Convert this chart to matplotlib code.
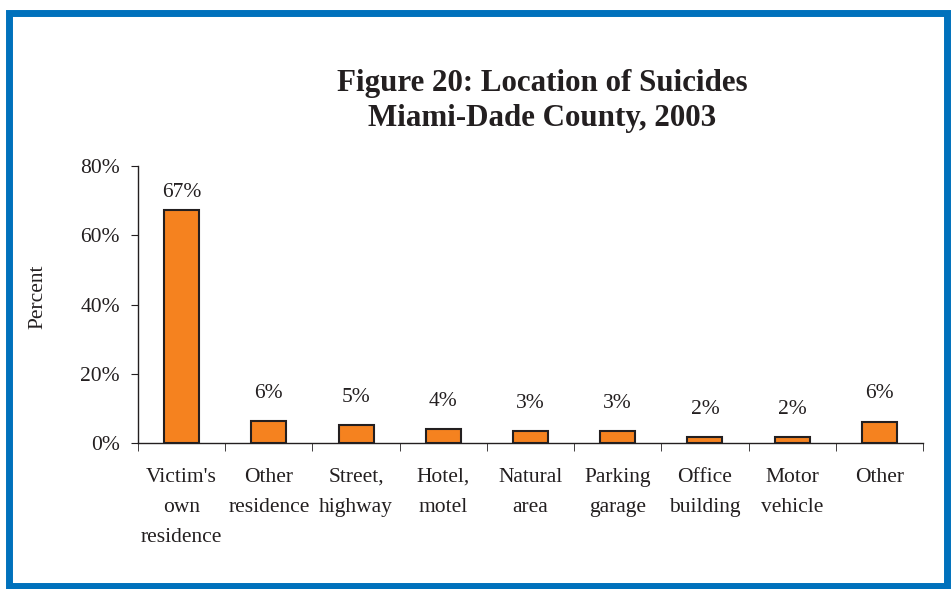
import numpy as np
import matplotlib.pyplot as plt
from matplotlib.patches import Rectangle

# Location of suicides, Miami-Dade County 2003 (percent of cases)
categories = ["Victim's\nown\nresidence", "Other\nresidence", "Street,\nhighway",
              "Hotel,\nmotel", "Natural\narea", "Parking\ngarage",
              "Office\nbuilding", "Motor\nvehicle", "Other"]
percents = [67.4, 6.3, 5.1, 4.1, 3.4, 3.4, 1.6, 1.6, 6.2]
yticks = [0, 20, 40, 60, 80]

plt.rcParams['font.family'] = ['Liberation Serif', 'DejaVu Serif']

fig = plt.figure(figsize=(9.51, 5.89), dpi=100)

# blue frame round the whole figure
fig.patches.append(Rectangle((8.5 / 951, 3.5 / 589), 938.5 / 951, 573 / 589,
                             transform=fig.transFigure, fill=False,
                             edgecolor='#0071BC', linewidth=5))

ax = fig.add_axes([138 / 951, 1 - 443 / 589, (923 - 138) / 951, (443 - 166) / 589])

x = np.arange(len(categories))
ax.bar(x, percents, width=0.40, color='#F5821F', edgecolor='#231F20', linewidth=1.5)

for xi, v in zip(x, percents):
    ax.text(xi, min(v + 8, 72.4), f"{v:.0f}%", ha='center', va='center',
            fontsize=15.5, color='#231F20')

ax.set_xlim(-0.5, len(categories) - 0.5)
ax.set_ylim(0, 80)
ax.set_yticks(yticks)
ax.set_yticklabels([f"{t}%" for t in yticks], fontsize=15.5, color='#231F20')
ax.set_xticks(x)
ax.set_xticklabels(categories, fontsize=15.5, color='#231F20', linespacing=1.8, va='top')
ax.set_xticks(np.arange(len(categories) + 1) - 0.5, minor=True)
ax.tick_params(axis='x', which='major', length=0, pad=18)
ax.tick_params(axis='x', which='minor', length=6, direction='out', color='#231F20')
ax.tick_params(axis='y', length=5, direction='out', color='#231F20', pad=8)

for side in ['top', 'right']:
    ax.spines[side].set_visible(False)
for side in ['left', 'bottom']:
    ax.spines[side].set_color('#231F20')
    ax.spines[side].set_linewidth(1.0)

fig.text(38 / 951, 1 - 297 / 589, "Percent", rotation=90, ha='center', va='center',
         fontsize=15.5, color='#231F20')

fig.text(542 / 951, 1 - 101 / 589, "Figure 20: Location of Suicides\nMiami-Dade County, 2003",
         ha='center', va='center', fontsize=22.3, fontweight='bold', color='#231F20',
         linespacing=1.3)

fig.savefig('out.png', dpi=100)
